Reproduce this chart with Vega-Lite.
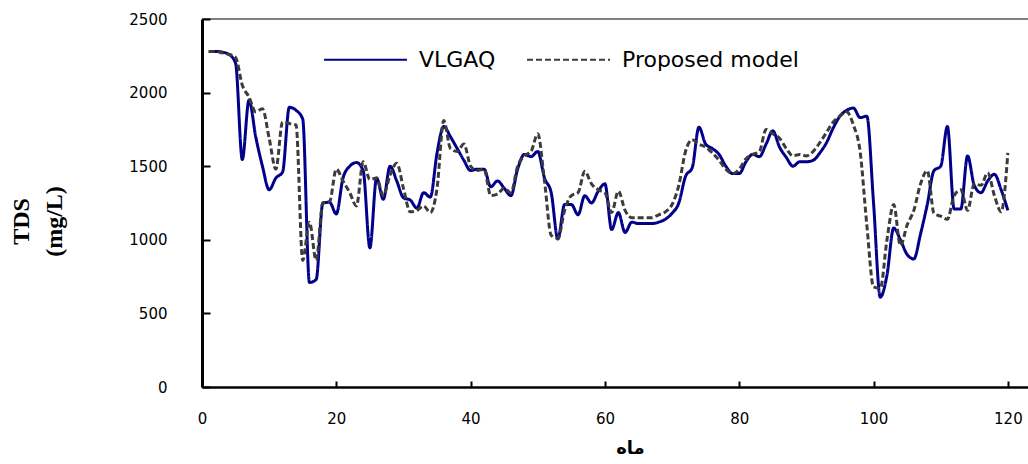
{
  "$schema": "https://vega.github.io/schema/vega-lite/v6.json",
  "width": 826,
  "height": 368,
  "autosize": {"type": "none"},
  "padding": {"left": 202, "top": 19, "right": 0, "bottom": 77},
  "background": "white",
  "config": {
    "view": {"stroke": null},
    "axis": {"domainColor": "black", "tickColor": "black", "labelColor": "black", "titleColor": "black", "grid": false},
    "legend": {
      "orient": "none", "legendX": 121, "legendY": -2, "direction": "horizontal",
      "symbolType": "stroke", "symbolSize": 6889, "symbolStrokeWidth": 2,
      "labelFont": "DejaVu Sans", "labelFontSize": 22, "labelColor": "black", "labelOffset": 11,
      "columnPadding": 27, "labelLimit": 400
    }
  },
  "data": {"values": [
    {"month":1,"VLGAQ":2280,"Proposed model":2280},{"month":2,"VLGAQ":2280,"Proposed model":2280},{"month":3,"VLGAQ":2275,"Proposed model":2270},{"month":4,"VLGAQ":2260,"Proposed model":2260},{"month":5,"VLGAQ":2200,"Proposed model":2240},
    {"month":6,"VLGAQ":1545,"Proposed model":2050},{"month":7,"VLGAQ":1950,"Proposed model":1970},{"month":8,"VLGAQ":1700,"Proposed model":1870},{"month":9,"VLGAQ":1500,"Proposed model":1890},{"month":10,"VLGAQ":1340,"Proposed model":1690},
    {"month":11,"VLGAQ":1420,"Proposed model":1480},{"month":12,"VLGAQ":1460,"Proposed model":1800},{"month":13,"VLGAQ":1900,"Proposed model":1790},{"month":14,"VLGAQ":1880,"Proposed model":1780},{"month":15,"VLGAQ":1820,"Proposed model":860},
    {"month":16,"VLGAQ":710,"Proposed model":1120},{"month":17,"VLGAQ":730,"Proposed model":860},{"month":18,"VLGAQ":1250,"Proposed model":1250},{"month":19,"VLGAQ":1255,"Proposed model":1260},{"month":20,"VLGAQ":1175,"Proposed model":1480},
    {"month":21,"VLGAQ":1420,"Proposed model":1400},{"month":22,"VLGAQ":1500,"Proposed model":1320},{"month":23,"VLGAQ":1525,"Proposed model":1230},{"month":24,"VLGAQ":1470,"Proposed model":1530},{"month":25,"VLGAQ":945,"Proposed model":1410},
    {"month":26,"VLGAQ":1420,"Proposed model":1420},{"month":27,"VLGAQ":1275,"Proposed model":1300},{"month":28,"VLGAQ":1500,"Proposed model":1440},{"month":29,"VLGAQ":1400,"Proposed model":1520},{"month":30,"VLGAQ":1285,"Proposed model":1350},
    {"month":31,"VLGAQ":1270,"Proposed model":1190},{"month":32,"VLGAQ":1215,"Proposed model":1200},{"month":33,"VLGAQ":1320,"Proposed model":1230},{"month":34,"VLGAQ":1290,"Proposed model":1185},{"month":35,"VLGAQ":1590,"Proposed model":1350},
    {"month":36,"VLGAQ":1770,"Proposed model":1810},{"month":37,"VLGAQ":1700,"Proposed model":1620},{"month":38,"VLGAQ":1620,"Proposed model":1600},{"month":39,"VLGAQ":1540,"Proposed model":1650},{"month":40,"VLGAQ":1470,"Proposed model":1500},
    {"month":41,"VLGAQ":1480,"Proposed model":1470},{"month":42,"VLGAQ":1480,"Proposed model":1480},{"month":43,"VLGAQ":1360,"Proposed model":1300},{"month":44,"VLGAQ":1400,"Proposed model":1310},{"month":45,"VLGAQ":1350,"Proposed model":1350},
    {"month":46,"VLGAQ":1300,"Proposed model":1320},{"month":47,"VLGAQ":1480,"Proposed model":1500},{"month":48,"VLGAQ":1580,"Proposed model":1570},{"month":49,"VLGAQ":1565,"Proposed model":1600},{"month":50,"VLGAQ":1600,"Proposed model":1720},
    {"month":51,"VLGAQ":1420,"Proposed model":1400},{"month":52,"VLGAQ":1320,"Proposed model":1030},{"month":53,"VLGAQ":1005,"Proposed model":1010},{"month":54,"VLGAQ":1240,"Proposed model":1200},{"month":55,"VLGAQ":1240,"Proposed model":1300},
    {"month":56,"VLGAQ":1170,"Proposed model":1320},{"month":57,"VLGAQ":1300,"Proposed model":1465},{"month":58,"VLGAQ":1250,"Proposed model":1380},{"month":59,"VLGAQ":1330,"Proposed model":1340},{"month":60,"VLGAQ":1380,"Proposed model":1320},
    {"month":61,"VLGAQ":1070,"Proposed model":1185},{"month":62,"VLGAQ":1185,"Proposed model":1330},{"month":63,"VLGAQ":1050,"Proposed model":1200},{"month":64,"VLGAQ":1120,"Proposed model":1150},{"month":65,"VLGAQ":1110,"Proposed model":1150},
    {"month":66,"VLGAQ":1110,"Proposed model":1150},{"month":67,"VLGAQ":1110,"Proposed model":1150},{"month":68,"VLGAQ":1120,"Proposed model":1170},{"month":69,"VLGAQ":1140,"Proposed model":1190},{"month":70,"VLGAQ":1180,"Proposed model":1240},
    {"month":71,"VLGAQ":1250,"Proposed model":1370},{"month":72,"VLGAQ":1430,"Proposed model":1600},{"month":73,"VLGAQ":1490,"Proposed model":1680},{"month":74,"VLGAQ":1765,"Proposed model":1650},{"month":75,"VLGAQ":1650,"Proposed model":1630},
    {"month":76,"VLGAQ":1620,"Proposed model":1590},{"month":77,"VLGAQ":1580,"Proposed model":1540},{"month":78,"VLGAQ":1500,"Proposed model":1480},{"month":79,"VLGAQ":1450,"Proposed model":1450},{"month":80,"VLGAQ":1450,"Proposed model":1480},
    {"month":81,"VLGAQ":1530,"Proposed model":1550},{"month":82,"VLGAQ":1580,"Proposed model":1580},{"month":83,"VLGAQ":1565,"Proposed model":1600},{"month":84,"VLGAQ":1650,"Proposed model":1750},{"month":85,"VLGAQ":1740,"Proposed model":1720},
    {"month":86,"VLGAQ":1630,"Proposed model":1690},{"month":87,"VLGAQ":1560,"Proposed model":1620},{"month":88,"VLGAQ":1500,"Proposed model":1570},{"month":89,"VLGAQ":1530,"Proposed model":1580},{"month":90,"VLGAQ":1530,"Proposed model":1570},
    {"month":91,"VLGAQ":1540,"Proposed model":1600},{"month":92,"VLGAQ":1590,"Proposed model":1660},{"month":93,"VLGAQ":1660,"Proposed model":1730},{"month":94,"VLGAQ":1760,"Proposed model":1800},{"month":95,"VLGAQ":1840,"Proposed model":1840},
    {"month":96,"VLGAQ":1880,"Proposed model":1870},{"month":97,"VLGAQ":1895,"Proposed model":1780},{"month":98,"VLGAQ":1830,"Proposed model":1600},{"month":99,"VLGAQ":1840,"Proposed model":1100},{"month":100,"VLGAQ":1250,"Proposed model":680},
    {"month":101,"VLGAQ":610,"Proposed model":670},{"month":102,"VLGAQ":760,"Proposed model":1000},{"month":103,"VLGAQ":1080,"Proposed model":1240},{"month":104,"VLGAQ":1000,"Proposed model":960},{"month":105,"VLGAQ":900,"Proposed model":1100},
    {"month":106,"VLGAQ":870,"Proposed model":1200},{"month":107,"VLGAQ":1040,"Proposed model":1380},{"month":108,"VLGAQ":1240,"Proposed model":1470},{"month":109,"VLGAQ":1470,"Proposed model":1180},{"month":110,"VLGAQ":1500,"Proposed model":1160},
    {"month":111,"VLGAQ":1770,"Proposed model":1140},{"month":112,"VLGAQ":1210,"Proposed model":1300},{"month":113,"VLGAQ":1210,"Proposed model":1340},{"month":114,"VLGAQ":1570,"Proposed model":1200},{"month":115,"VLGAQ":1370,"Proposed model":1380},
    {"month":116,"VLGAQ":1320,"Proposed model":1370},{"month":117,"VLGAQ":1400,"Proposed model":1455},{"month":118,"VLGAQ":1445,"Proposed model":1300},{"month":119,"VLGAQ":1340,"Proposed model":1190},{"month":120,"VLGAQ":1200,"Proposed model":1590}
  ]},
  "layer": [
    {
      "transform": [{"fold": ["VLGAQ", "Proposed model"], "as": ["series", "tds"]}],
      "mark": {"type": "line", "interpolate": "monotone", "strokeWidth": 3},
      "encoding": {
        "x": {
          "field": "month", "type": "quantitative",
          "scale": {"domain": [0, 123], "nice": false},
          "axis": {
            "values": [0, 20, 40, 60, 80, 100, 120], "format": "d",
            "tickSize": -6, "tickWidth": 2, "domainWidth": 2.5,
            "labelFont": "DejaVu Sans", "labelFontSize": 15, "labelPadding": 30, "labelFlush": false,
            "title": "ماه", "titleFont": "DejaVu Sans", "titleFontWeight": "bold", "titleFontSize": 18,
            "titleX": 428, "titleY": 66, "titleBaseline": "alphabetic", "titleAlign": "center"
          }
        },
        "y": {
          "field": "tds", "type": "quantitative",
          "scale": {"domain": [0, 2500], "nice": false},
          "axis": {
            "values": [0, 500, 1000, 1500, 2000, 2500], "format": "d",
            "tickSize": -8, "tickWidth": 2, "domainWidth": 3,
            "labelFont": "DejaVu Sans", "labelFontSize": 15, "labelPadding": 43, "labelFlush": false,
            "title": ["TDS", "(mg/L)"], "titleFont": "Liberation Serif", "titleFontWeight": "bold", "titleFontSize": 24,
            "titleLineHeight": 33, "titleAngle": -90, "titleAlign": "center", "titleBaseline": "top",
            "titleX": -193, "titleY": 202
          }
        },
        "color": {
          "field": "series", "type": "nominal",
          "scale": {"domain": ["VLGAQ", "Proposed model"], "range": ["#00008b", "#3c3c3c"]},
          "legend": {"title": null}
        },
        "strokeDash": {
          "field": "series", "type": "nominal",
          "scale": {"domain": ["VLGAQ", "Proposed model"], "range": [[1, 0], [6, 3]]},
          "legend": {"title": null}
        }
      }
    },
    {
      "data": {"values": [{"top": 2500}]},
      "mark": {"type": "rule", "color": "black", "strokeWidth": 1.2},
      "encoding": {"y": {"field": "top", "type": "quantitative"}}
    }
  ]
}
